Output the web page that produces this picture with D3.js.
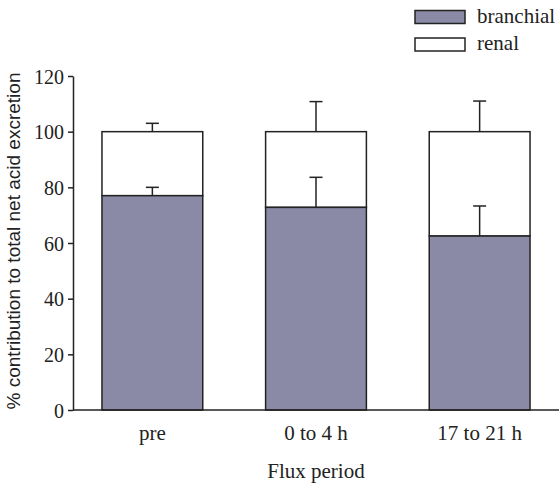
<!DOCTYPE html>
<html lang="en">
<head>
    <meta charset="UTF-8">
    <title>Net acid excretion</title>
    <style>
        body { margin: 0; background: #fff; }
        .axis path, .axis line { stroke: #222; stroke-width: 1.5; }
        .serif { font-family: "Liberation Serif", "Times New Roman", serif; font-size: 21px; fill: #222; }
        .axis text { font-family: "Liberation Serif", "Times New Roman", serif; font-size: 21px; fill: #222; }
        .yaxis text { font-size: 20px; }
    </style>
</head>
<body>
    <div id="chart"></div>
    <script src="https://d3js.org/d3.v7.min.js"></script>
    <script>
// values
const periods = ["pre", "0 to 4 h", "17 to 21 h"];
const branchial = [77, 72.8, 62.5];
const branchialErr = [3, 10.8, 10.8];
const renal = [23, 27.2, 37.5];
const totalErr = [3, 10.8, 11];
const yTicks = [0, 20, 40, 60, 80, 100, 120];

const W = 559, H = 488;
const margin = {top: 76, right: 0, bottom: 78, left: 73};

const svg = d3.select("#chart").append("svg")
    .attr("width", W)
    .attr("height", H);

const x = d3.scaleBand()
    .domain(periods)
    .range([margin.left, W])
    .paddingInner(0.384)
    .paddingOuter(0.177);

const y = d3.scaleLinear()
    .domain([0, 120])
    .range([H - margin.bottom, margin.top]);

const rows = periods.map((p, i) => ({
    p: p, b: branchial[i], be: branchialErr[i], r: renal[i], te: totalErr[i]
}));

const barFill = "#8a8aa6";

// renal on top of branchial
svg.selectAll(".renal")
    .data(rows)
    .enter().append("rect")
    .attr("class", "renal")
    .attr("x", d => x(d.p))
    .attr("y", d => y(d.b + d.r))
    .attr("width", x.bandwidth())
    .attr("height", d => y(d.b) - y(d.b + d.r))
    .attr("fill", "#fff")
    .attr("stroke", "#222")
    .attr("stroke-width", 1.5);

svg.selectAll(".branchial")
    .data(rows)
    .enter().append("rect")
    .attr("class", "branchial")
    .attr("x", d => x(d.p))
    .attr("y", d => y(d.b))
    .attr("width", x.bandwidth())
    .attr("height", d => y(0) - y(d.b))
    .attr("fill", barFill)
    .attr("stroke", "#222")
    .attr("stroke-width", 1.5);

// error bars (upper half only)
function errBar(val, err, p) {
    const cx = x(p) + x.bandwidth() / 2;
    svg.append("line")
        .attr("x1", cx).attr("x2", cx)
        .attr("y1", y(val)).attr("y2", y(val + err))
        .attr("stroke", "#222").attr("stroke-width", 1.5);
    svg.append("line")
        .attr("x1", cx - 6.5).attr("x2", cx + 6.5)
        .attr("y1", y(val + err)).attr("y2", y(val + err))
        .attr("stroke", "#222").attr("stroke-width", 1.5);
}
rows.forEach(d => {
    errBar(d.b + d.r, d.te, d.p);
    errBar(d.b, d.be, d.p);
});

// axes
svg.append("g")
    .attr("class", "axis")
    .attr("transform", "translate(0," + y(0) + ")")
    .call(d3.axisBottom(x).tickSize(0).tickSizeOuter(0).tickPadding(15))
    .call(g => g.select(".domain").attr("d", "M" + margin.left + ",0H" + W));

svg.append("g")
    .attr("class", "axis yaxis")
    .attr("transform", "translate(" + margin.left + ",0)")
    .call(d3.axisLeft(y).tickValues(yTicks).tickSize(5).tickSizeOuter(0).tickPadding(4))
    .call(g => g.selectAll("text").attr("dy", "0.35em"));

// axis titles
svg.append("text")
    .attr("class", "serif")
    .attr("x", (margin.left + W) / 2)
    .attr("y", 478)
    .attr("text-anchor", "middle")
    .text("Flux period");

svg.append("text")
    .attr("transform", "translate(20," + 241 + ") rotate(-90)")
    .attr("text-anchor", "middle")
    .style("font-family", "'Liberation Sans', Arial, sans-serif")
    .style("font-size", "19px")
    .attr("fill", "#222")
    .text("% contribution to total net acid excretion");

// legend
const legend = [
    {name: "branchial", fill: barFill},
    {name: "renal", fill: "#fff"}
];
const lg = svg.append("g").attr("transform", "translate(415,10.5)");
legend.forEach((l, i) => {
    lg.append("rect")
        .attr("x", 0).attr("y", i * 27.5)
        .attr("width", 50).attr("height", 13)
        .attr("fill", l.fill)
        .attr("stroke", "#222")
        .attr("stroke-width", 1.5);
    lg.append("text")
        .attr("class", "serif")
        .attr("x", 62).attr("y", i * 27.5 + 12)
        .text(l.name);
});
    </script>
</body>
</html>
